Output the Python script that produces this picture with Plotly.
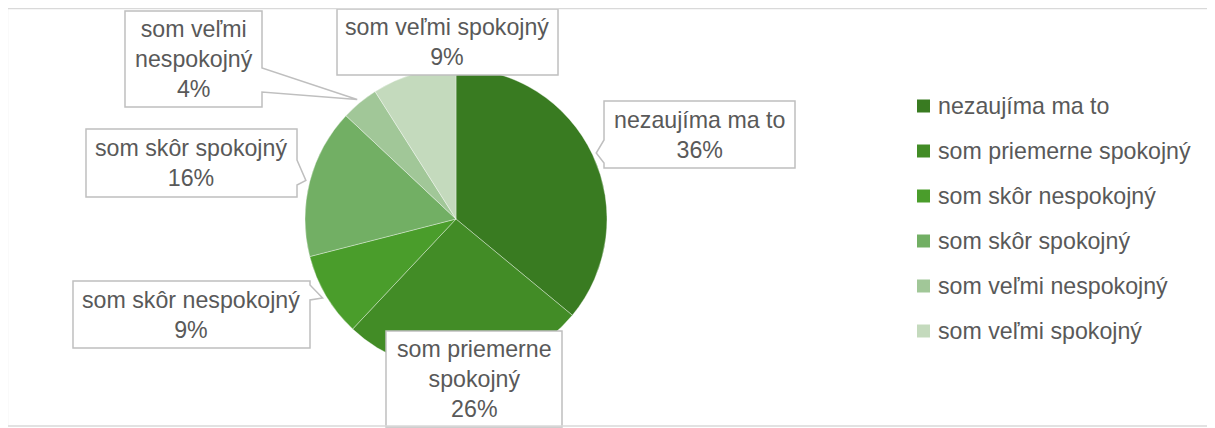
import math
import plotly.graph_objects as go

# ---- data ----
labels = ["nezaujíma ma to", "som priemerne spokojný", "som skôr nespokojný",
          "som skôr spokojný", "som veľmi nespokojný", "som veľmi spokojný"]
values = [36, 26, 9, 16, 4, 9]
colors = ["#397B21", "#428C26", "#4A9D2B", "#72AF64", "#A1C798", "#C4DABD"]
callout_names = ["nezaujíma ma to", "som priemerne<br>spokojný", "som skôr nespokojný",
                 "som skôr spokojný", "som veľmi<br>nespokojný", "som veľmi spokojný"]

# ---- layout geometry (pixels in the page) ----
PAGE_W, PAGE_H = 1215, 428
OFF = 8  # default body margin of the html page
W, H = PAGE_W - OFF, PAGE_H - OFF
CX, CY, R = 456, 219, 151
TIP_R = 155
# box x0, y0, x1, y1, wedge side, wedge base (y0, y1)
boxes = [
    (604, 101, 795, 168, "left", (140, 163)),
    (386, 331, 562, 427, None, None),
    (73, 281, 310, 348, "right", (285, 300)),
    (86, 129, 297, 197, "right", (160, 185)),
    (125, 11, 262, 107, "right", (68, 92)),
    (337, 9, 558, 75, None, None),
]

TEXT = "#595959"
FONT = "Liberation Sans, Arial, sans-serif"
FS = 23.2


def px(x):
    return (x - OFF) / W


def py(y):
    return 1 - (y - OFF) / H


fig = go.Figure()
fig.add_trace(go.Pie(
    labels=labels, values=values, sort=False, direction="clockwise", rotation=0,
    marker=dict(colors=colors, line=dict(color="rgba(255,255,255,0.6)", width=0.6)),
    textinfo="none", hoverinfo="label+percent", showlegend=False,
    domain=dict(x=[px(CX - R), px(CX + R)], y=[py(CY + R), py(CY - R)]),
))

shapes = []
annotations = []
total = sum(values)
cum = 0
for i, v in enumerate(values):
    mid = (cum + v / 2) / total * 2 * math.pi
    cum += v
    tx = CX + TIP_R * math.sin(mid)
    ty = CY - TIP_R * math.cos(mid)
    x0, y0, x1, y1, side, base = boxes[i]
    if side == "right":
        pts = [(x0, y0), (x1, y0), (x1, base[0]), (tx, ty), (x1, base[1]), (x1, y1), (x0, y1)]
    elif side == "left":
        pts = [(x0, y0), (x1, y0), (x1, y1), (x0, y1), (x0, base[1]), (tx, ty), (x0, base[0])]
    else:
        pts = [(x0, y0), (x1, y0), (x1, y1), (x0, y1)]
    path = "M " + " L ".join(f"{px(a):.5f},{py(b):.5f}" for a, b in pts) + " Z"
    shapes.append(dict(type="path", path=path, xref="paper", yref="paper",
                       fillcolor="white", line=dict(color="#BFBFBF", width=1.5), layer="above"))
    pct = round(v / total * 100)
    annotations.append(dict(
        x=px((x0 + x1) / 2), y=py((y0 + y1) / 2), xref="paper", yref="paper",
        text=f"{callout_names[i]}<br>{pct}%", showarrow=False, align="center",
        xanchor="center", yanchor="middle",
        font=dict(family=FONT, size=FS, color=TEXT),
    ))

# manual legend
LX, LY0, LDY, SQ = 917, 106, 45, 13
for i, lab in enumerate(labels):
    yc = LY0 + i * LDY
    shapes.append(dict(type="rect", xref="paper", yref="paper",
                       x0=px(LX), x1=px(LX + SQ), y0=py(yc + SQ / 2), y1=py(yc - SQ / 2),
                       fillcolor=colors[i], line=dict(width=0), layer="above"))
    annotations.append(dict(x=px(LX + SQ + 6), y=py(yc), xref="paper", yref="paper",
                            text=lab, showarrow=False, xanchor="left", yanchor="middle",
                            font=dict(family=FONT, size=FS, color=TEXT)))

# chart border
shapes.append(dict(type="rect", xref="paper", yref="paper",
                   x0=px(7.5), x1=px(1212), y0=py(426), y1=py(8.5),
                   line=dict(color="#D9D9D9", width=1.3), fillcolor="rgba(0,0,0,0)", layer="above"))

fig.update_layout(
    width=W, height=H, margin=dict(l=0, r=0, t=0, b=0),
    paper_bgcolor="white", plot_bgcolor="white",
    shapes=shapes, annotations=annotations, showlegend=False,
    font=dict(family=FONT, color=TEXT),
)

fig.write_html("out.html")
